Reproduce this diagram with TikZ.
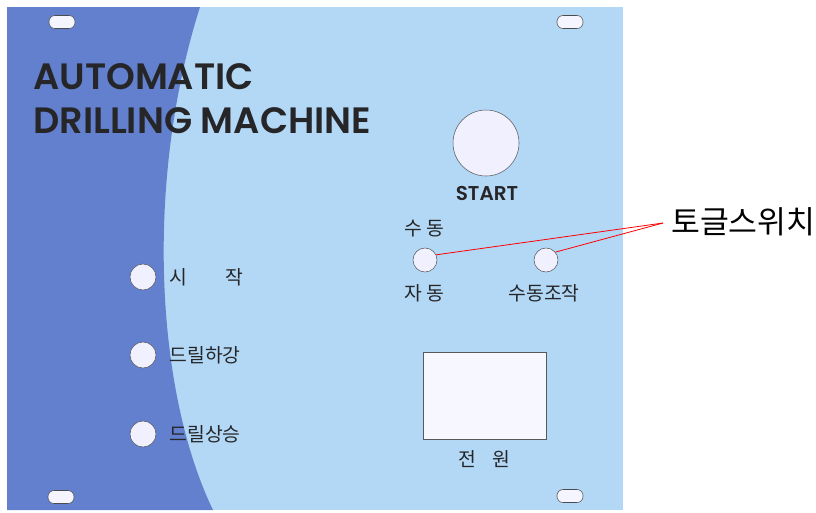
\documentclass[tikz,border=0pt]{standalone}
\usepackage{fontspec}
\usepackage{tikz}
\usetikzlibrary{positioning}
\newfontfamily\titlefont{Poppins}[BoldFont={Poppins SemiBold}]
\newfontfamily\korfont{Noto Sans CJK KR}
\definecolor{paneldark}{RGB}{98,128,206}
\definecolor{panellight}{RGB}{178,216,246}
\definecolor{ink}{RGB}{38,38,40}

\begin{document}
\begin{tikzpicture}[x=0.75pt,y=-0.75pt,
  lamp/.style={circle,draw=black!65,fill=white!94!blue,minimum size=#1,inner sep=0pt},
  slot/.style={rounded corners=4.5pt,draw=black!70,fill=white!96!blue,minimum width=19.5pt,minimum height=9.75pt,inner sep=0pt},
  lbl/.style={font=\korfont\fontsize{14.5}{15}\selectfont,text=ink,inner sep=1pt},
  ttl/.style={anchor=base west,font=\titlefont\bfseries\fontsize{27.5}{30}\selectfont,text=ink,inner sep=0pt}]
\useasboundingbox (0,0) rectangle (816,512);
\fill[panellight] (7,7) rectangle (623,510);
\fill[paneldark] (7,7) -- (200,7) .. controls (145,180) and (155,390) .. (213,510) -- (7,510) -- cycle;

\node [slot] (s1) at (62,22) {};
\node [slot] (s2) at (570,22) {};
\node [slot] (s3) at (61,497) {};
\node [slot] (s4) at (570,496) {};

\node [ttl] (t1) at (33,89) {AUTOMATIC};
\node [ttl] (t2) at (33,133) {DRILLING MACHINE};

\node [lamp=49.5pt] (start) at (486,143) {};
\node [anchor=base,font=\titlefont\bfseries\fontsize{15}{16}\selectfont,text=ink,inner sep=0pt] (startlbl) at (487,200) {START};

\node [lamp=18pt] (tl) at (425,260) {};
\node [lamp=18pt] (tr) at (546,260) {};
\node [lbl] (manual) at (424,229) {수 동};
\node [lbl] (auto) at (424,293) {자 동};
\node [lbl] (jog) at (544,293) {수동조작};

\node [lamp=19.5pt] (c1) at (143,277) {};
\node [lamp=19.5pt] (c2) at (143,355) {};
\node [lamp=19.5pt] (c3) at (143,434) {};
\node [lbl,anchor=west] (l1) at (168,277) {\makebox[55pt][s]{시\hfill 작}};
\node [lbl,anchor=west] (l2) at (168,355) {드릴하강};
\node [lbl,anchor=west] (l3) at (168,434) {드릴상승};

\node [draw=black!65,fill=white!97!blue,minimum width=92.25pt,minimum height=65.25pt,inner sep=0pt] (power) at (484.5,395.5) {};
\node [lbl] (powerlbl) at (484,459) {\makebox[39pt][s]{전\hfill 원}};

\node [anchor=west,font=\korfont\fontsize{23.5}{26}\selectfont,inner sep=0pt] (toggle) at (671,222) {토글스위치};
\coordinate (tip) at (663,223);
\draw [red,line width=0.6pt] (tip) -- (tl.25);
\draw [red,line width=0.6pt] (tip) -- (tr.40);
\end{tikzpicture}
\end{document}
